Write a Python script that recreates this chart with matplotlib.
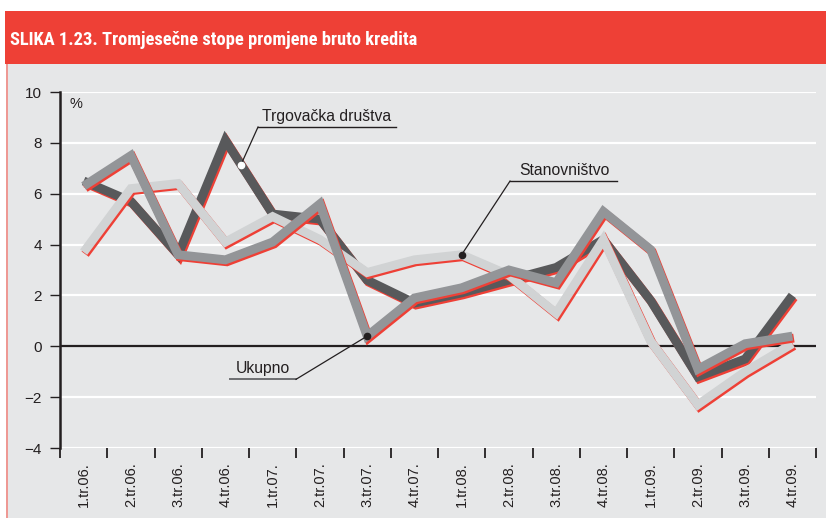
import matplotlib
matplotlib.use('Agg')
import matplotlib.pyplot as plt
import matplotlib.patheffects as pe
from matplotlib.patches import Rectangle
from matplotlib.lines import Line2D
from matplotlib import font_manager
import numpy as np

categories = ['1.tr.06.', '2.tr.06.', '3.tr.06.', '4.tr.06.', '1.tr.07.', '2.tr.07.',
              '3.tr.07.', '4.tr.07.', '1.tr.08.', '2.tr.08.', '3.tr.08.', '4.tr.08.',
              '1.tr.09.', '2.tr.09.', '3.tr.09.', '4.tr.09.']
trgovacka = [6.5, 5.7, 3.6, 8.1, 5.2, 5.0, 2.6, 1.7, 2.1, 2.6, 3.1, 4.2, 1.8, -1.2, -0.5, 2.0]
ukupno = [6.3, 7.5, 3.6, 3.4, 4.1, 5.6, 0.4, 1.9, 2.3, 3.0, 2.5, 5.3, 3.8, -0.9, 0.1, 0.4]
stanovnistvo = [3.7, 6.2, 6.4, 4.1, 5.1, 4.2, 2.9, 3.4, 3.6, 2.8, 1.3, 4.2, 0.2, -2.3, -1.0, 0.1]
yticks = [-4, -2, 0, 2, 4, 6, 8, 10]
title = 'SLIKA 1.23. Tromjesečne stope promjene bruto kredita'

names = {f.name for f in font_manager.fontManager.ttflist}
base = 'Liberation Sans' if 'Liberation Sans' in names else 'DejaVu Sans'
narrow = None
for cand in ['Liberation Sans Narrow', 'Roboto Condensed', 'Arial Narrow',
             'Open Sans Condensed', 'DejaVu Sans Condensed']:
    if cand in names:
        narrow = cand
        break
plt.rcParams['font.family'] = [base, 'DejaVu Sans']

W, H = 826, 518
fig = plt.figure(figsize=(W / 100, H / 100), dpi=100)
fig.patch.set_facecolor('white')

RED = '#ee4036'
PANEL = '#e6e7e8'
fig.add_artist(Rectangle((6 / W, 0), 1 - 6 / W, 1 - 64 / H, transform=fig.transFigure,
                         facecolor=PANEL, edgecolor='none', zorder=0))
fig.add_artist(Line2D([6.5 / W, 6.5 / W], [0, 1 - 64 / H], transform=fig.transFigure,
                      color='#f08a84', lw=1.2, zorder=1))
fig.add_artist(Rectangle((5 / W, 1 - 64 / H), 1 - 5 / W, 53 / H, transform=fig.transFigure,
                         facecolor=RED, edgecolor='none', zorder=1))
if narrow:
    fig.text(10 / W, 1 - 40 / H, title, color='white', fontsize=13.3, fontweight='bold',
             family=[narrow, 'DejaVu Sans'], va='center', ha='left', zorder=2)
else:
    fig.text(10 / W, 1 - 40.5 / H, title, color='white', fontsize=11.6, fontweight='bold',
             va='center', ha='left', zorder=2)

ax = fig.add_axes([60 / W, 1 - 448 / H, 756 / W, 356 / H])
ax.set_facecolor('none')
x = np.arange(len(categories))
ax.set_xlim(-0.5, len(categories) - 0.5)
ax.set_ylim(-4, 10)

for yv in yticks:
    if yv != 0:
        ax.axhline(yv, color='white', lw=1.6, zorder=1)
ax.axhline(0, color='#231f20', lw=1.6, zorder=2)

lw = 6.4
shadow = [pe.SimpleLineShadow(offset=(1.1, -1.4), shadow_color=RED, alpha=1.0, rho=1.0),
          pe.Normal()]
series = [(trgovacka, '#58595b'), (stanovnistvo, '#d1d3d4'), (ukupno, '#939598')]
for i, (vals, col) in enumerate(series):
    ax.plot(x, vals, color=col, lw=lw, solid_joinstyle='miter', solid_capstyle='butt',
            path_effects=shadow, zorder=3 + i)

for s in ['top', 'right', 'bottom']:
    ax.spines[s].set_visible(False)
ax.spines['left'].set_color('#231f20')
ax.spines['left'].set_linewidth(1.8)
ax.spines['left'].set_zorder(10)
ax.set_yticks(yticks)
ax.set_yticklabels([f'{v}'.replace('-', '\u2212') for v in yticks], fontsize=11, color='#231f20')
ax.tick_params(axis='y', direction='out', length=7, width=1.0, color='#231f20', pad=6)
ax.set_xticks(x)
ax.set_xticklabels(categories, rotation=90, fontsize=10.5, color='#231f20')
ax.tick_params(axis='x', which='major', length=0, pad=10)
ax.set_xticks(np.arange(-0.5, len(categories)), minor=True)
ax.tick_params(axis='x', which='minor', direction='out', length=7, width=1.3, color='#231f20')

ax.text(0.012, 0.985, '%', transform=ax.transAxes, fontsize=10.5, va='top', ha='left',
        color='#231f20')

def px2d(px, py):
    return (px - 60) / 47.25 - 0.5, (346 - py) / 25.4

txtc = '#231f20'
f = 0.33
tx = 3 + f
ty = trgovacka[3] + f * (trgovacka[4] - trgovacka[3])
u0 = px2d(258, 127); u1 = px2d(396, 127)
ax.plot([u0[0], u1[0]], [u0[1], u1[1]], color=txtc, lw=1.0, zorder=20, clip_on=False)
ax.plot([u0[0], tx], [u0[1], ty], color=txtc, lw=0.9, zorder=20)
ax.plot([tx], [ty], 'o', ms=4.5, mfc='white', mec='white', zorder=21)
ax.text(px2d(262, 0)[0], px2d(0, 124)[1], 'Trgovačka društva', fontsize=11.3, color=txtc,
        ha='left', va='bottom', zorder=20)

sx, sy = 8, stanovnistvo[8]
u0 = px2d(510, 181); u1 = px2d(617, 181)
ax.plot([u0[0], u1[0]], [u0[1], u1[1]], color=txtc, lw=1.0, zorder=20)
ax.plot([u0[0], sx], [u0[1], sy], color=txtc, lw=0.9, zorder=20)
ax.plot([sx], [sy], 'o', ms=4.5, color=txtc, zorder=21)
ax.text(px2d(519, 0)[0], px2d(0, 178)[1], 'Stanovništvo', fontsize=11.3, color=txtc,
        ha='left', va='bottom', zorder=20)

kx, ky = 6, ukupno[6]
u0 = px2d(230, 379); u1 = px2d(296, 379)
ax.plot([u0[0], u1[0]], [u0[1], u1[1]], color='#6d6e71', lw=1.4, zorder=20)
ax.plot([u1[0], kx], [u1[1], ky], color=txtc, lw=0.9, zorder=20)
ax.plot([kx], [ky], 'o', ms=4.5, color=txtc, zorder=21)
ax.text(px2d(236, 0)[0], px2d(0, 376)[1], 'Ukupno', fontsize=11.3, color=txtc,
        ha='left', va='bottom', zorder=20)

fig.savefig('out.png', dpi=100, facecolor=fig.get_facecolor())
